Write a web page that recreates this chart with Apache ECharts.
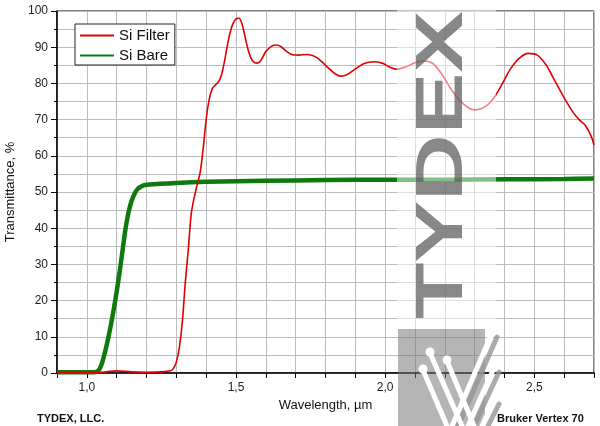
<!DOCTYPE html>
<html><head><meta charset="utf-8">
<script src="https://cdn.jsdelivr.net/npm/echarts@6/dist/echarts.min.js"></script>
<style>html,body{margin:0;padding:0;background:#fff}#c{width:600px;height:426px}</style>
</head><body><div id="c"></div>
<script>
// ---- data (wavelength in µm, transmittance in %) ----
const seriesNames = ['Si Filter', 'Si Bare'];
const filterX = [0.9, 1.0, 1.05, 1.1, 1.15, 1.2, 1.25, 1.28, 1.29, 1.30, 1.31, 1.32, 1.33, 1.34, 1.35, 1.36, 1.37, 1.38, 1.39, 1.40, 1.41, 1.42, 1.43, 1.44, 1.45, 1.46, 1.47, 1.48, 1.49, 1.50, 1.51, 1.52, 1.53, 1.54, 1.55, 1.56, 1.57, 1.58, 1.59, 1.60, 1.62, 1.635, 1.65, 1.67, 1.69, 1.71, 1.74, 1.77, 1.80, 1.83, 1.85, 1.87, 1.90, 1.93, 1.96, 1.99, 2.02, 2.04, 2.07, 2.10, 2.13, 2.16, 2.19, 2.22, 2.25, 2.28, 2.30, 2.33, 2.36, 2.39, 2.42, 2.45, 2.48, 2.51, 2.54, 2.57, 2.60, 2.63, 2.65, 2.67, 2.69, 2.70];
const filterT = [0.1, 0.1, 0.2, 0.6, 0.3, 0.2, 0.3, 0.6, 1.2, 3, 7, 14, 25, 34, 44, 48.5, 52, 55.5, 62, 70, 75.5, 78.5, 79.5, 80.3, 82, 85.5, 90, 94, 96.5, 97.8, 98, 96.5, 93, 89.5, 87, 85.9, 85.6, 86, 87.3, 88.8, 90.3, 90.6, 90.2, 88.8, 87.9, 87.8, 88, 87.2, 85, 82.8, 82, 82.3, 84, 85.5, 86, 85.6, 84.3, 83.9, 84.6, 85.7, 86.2, 85.5, 82.5, 78.5, 75.3, 73.2, 72.7, 73.3, 75.5, 79.5, 84, 87, 88.3, 87.8, 85, 80.5, 76, 72, 70, 68.5, 65.5, 63];
const bareX = [0.9, 1.0, 1.03, 1.04, 1.05, 1.06, 1.07, 1.08, 1.09, 1.10, 1.11, 1.12, 1.13, 1.14, 1.15, 1.16, 1.17, 1.18, 1.19, 1.20, 1.3, 1.4, 1.6, 1.8, 2.0, 2.2, 2.4, 2.6, 2.7];
const bareT = [0.2, 0.2, 0.3, 0.8, 2.5, 5.5, 9, 13, 17.5, 22.5, 28, 34, 40, 44.5, 47.5, 49.5, 50.8, 51.4, 51.8, 52.0, 52.5, 52.8, 53.1, 53.3, 53.4, 53.4, 53.5, 53.6, 53.7];
const xLabelValues = [1.0, 1.5, 2.0, 2.5];
const yTickValues = [0, 10, 20, 30, 40, 50, 60, 70, 80, 90, 100];
const axisTitles = { x: 'Wavelength, \u00b5m', y: 'Transmittance, %' };
const footerLeft = 'TYDEX, LLC.';
const footerRight = 'Bruker Vertex 70';
const watermark = 'TYDEX';

const zip = (xs, ys) => xs.map((x, i) => [x, ys[i]]);
const FONT = '"Liberation Sans", Arial, sans-serif';
const gridColor = '#bcbcbc';
const wl = (x1, y1, x2, y2, c) => ({ type: 'line', z: 102, shape: { x1, y1, x2, y2 }, style: { stroke: c || '#fff', lineWidth: 5, lineCap: 'round' } });
const wc = (cx, cy) => ({ type: 'circle', z: 102, shape: { cx, cy, r: 4.5 }, style: { fill: '#fff' } });
const shadow = 'rgba(150,150,150,0.8)';

const chart = echarts.init(document.getElementById('c'), null, { renderer: 'canvas' });
chart.setOption({
  animation: false,
  backgroundColor: '#fff',
  grid: { left: 57, right: 6, top: 11, bottom: 53, show: true, borderColor: '#000', borderWidth: 1,
    backgroundColor: 'transparent', containLabel: false, outerBoundsMode: 'none' },
  legend: {
    orient: 'vertical', left: 75, top: 24,
    backgroundColor: '#fff', borderColor: '#222', borderWidth: 1,
    padding: [4, 5, 2, 4], itemWidth: 34, itemHeight: 14, itemGap: 5,
    itemStyle: { opacity: 0 },
    textStyle: { fontFamily: FONT, fontSize: 15, color: '#111' },
    data: seriesNames
  },
  xAxis: {
    type: 'value', min: 0.9, max: 2.7, interval: 0.1,
    name: axisTitles.x, nameLocation: 'middle', nameGap: 26,
    nameTextStyle: { fontFamily: FONT, fontSize: 13, color: '#111' },
    axisLine: { show: true, onZero: false, lineStyle: { color: '#000', width: 1.5 } },
    axisTick: { show: true, inside: false, length: 5, lineStyle: { color: '#000', width: 1 } },
    axisLabel: {
      fontFamily: FONT, fontSize: 12, color: '#222', margin: 9,
      formatter: v => xLabelValues.some(t => Math.abs(t - v) < 1e-6) ? v.toFixed(1).replace('.', ',') : ''
    },
    splitLine: { show: true, lineStyle: { color: gridColor, width: 1 } }
  },
  yAxis: {
    type: 'value', min: 0, max: 100, interval: 10,
    name: axisTitles.y, nameLocation: 'middle', nameGap: 38,
    nameTextStyle: { fontFamily: FONT, fontSize: 13, color: '#111' },
    axisLine: { show: true, onZero: false, lineStyle: { color: '#000', width: 1.5 } },
    axisTick: { show: true, inside: false, length: 6, lineStyle: { color: '#000', width: 1 } },
    minorTick: { show: true, splitNumber: 2, length: 3, lineStyle: { color: '#000', width: 1 } },
    axisLabel: { fontFamily: FONT, fontSize: 12, color: '#222', margin: 9,
      formatter: v => yTickValues.includes(v) ? String(v) : '' },
    splitLine: { show: true, lineStyle: { color: gridColor, width: 1 } },
    minorSplitLine: { show: true, lineStyle: { color: gridColor, width: 1 } }
  },
  series: [
    { name: seriesNames[0], type: 'line', data: zip(filterX, filterT), showSymbol: false, symbol: 'none',
      smooth: 0.3, lineStyle: { color: '#e00000', width: 1.6 }, itemStyle: { color: '#e00000' }, z: 3 },
    { name: seriesNames[1], type: 'line', data: zip(bareX, bareT), showSymbol: false, symbol: 'none',
      smooth: 0.3, lineStyle: { color: '#0e7a0e', width: 4.5 }, itemStyle: { color: '#0e7a0e' }, z: 2 }
  ],
  graphic: [
    { type: 'rect', z: 100, shape: { x: 397, y: 0, width: 99, height: 329 }, style: { fill: 'rgba(255,255,255,0.5)' } },
    { type: 'text', z: 101, x: 444, y: 165, rotation: Math.PI / 2, scaleX: 1.4,
      style: { text: watermark, font: 'bold 66px ' + FONT, fill: 'rgba(90,90,90,0.72)', align: 'center', verticalAlign: 'middle' } },
    { type: 'rect', z: 100, shape: { x: 398, y: 329, width: 87, height: 97 }, style: { fill: 'rgba(120,120,120,0.55)' } },
    wl(497, 337, 458, 426, shadow), wl(499, 372, 474, 426, shadow), wl(499, 404, 488, 426, shadow),
    wl(430, 353, 462, 426), wl(447, 361, 474, 426), wl(423, 370, 447, 426),
    wl(492, 333, 452, 426), wl(494, 368, 468, 426), wl(494, 400, 482, 426),
    wc(430, 352), wc(447, 360), wc(423, 369),
    { type: 'text', z: 103, left: 37, top: 413, style: { text: footerLeft, font: 'bold 11px ' + FONT, fill: '#111' } },
    { type: 'text', z: 103, left: 497, top: 413, style: { text: footerRight, font: 'bold 11px ' + FONT, fill: '#111' } }
  ]
});
</script>
</body></html>
